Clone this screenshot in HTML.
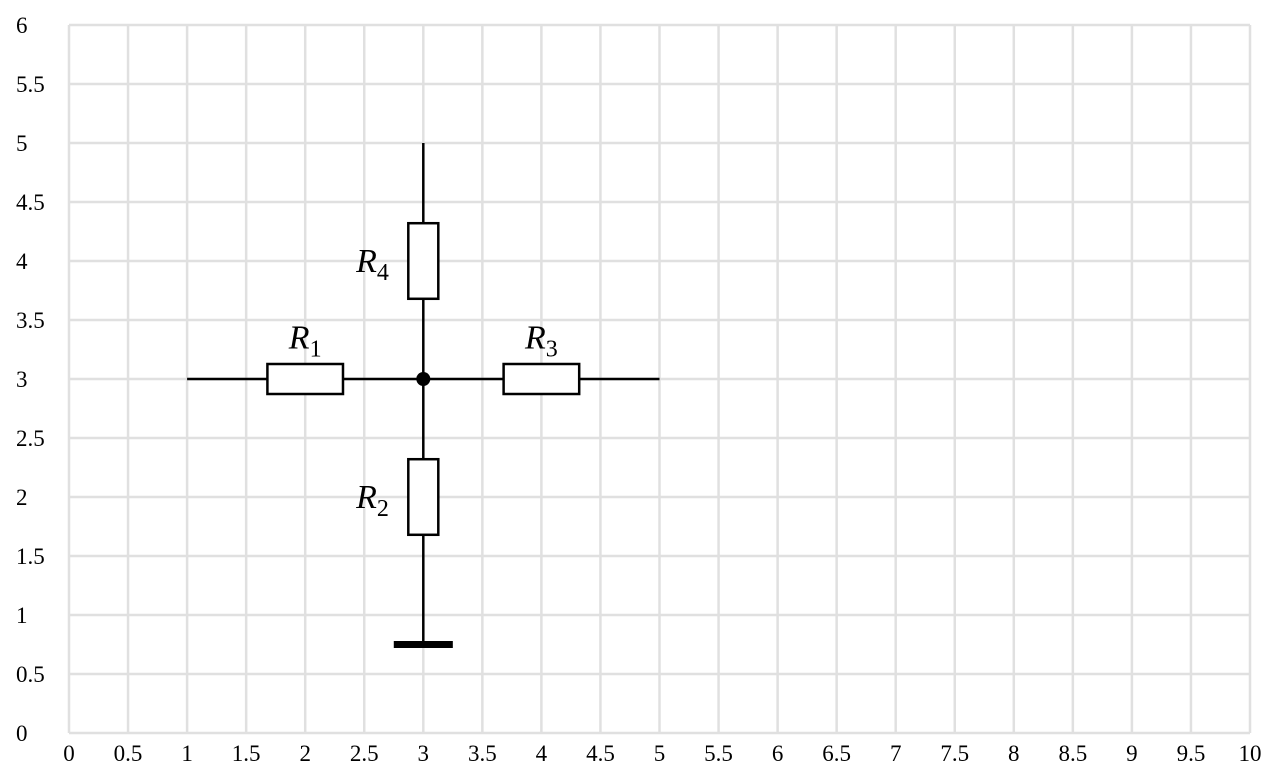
<!DOCTYPE html>
<html><head><meta charset="utf-8">
<style>
html,body{margin:0;padding:0;background:#fff;}
svg{display:block;}
text{font-family:"Liberation Serif",serif;fill:#000;}
</style></head>
<body>
<svg id="chart" width="1284" height="783" viewBox="0 0 1284 783" xmlns="http://www.w3.org/2000/svg"></svg>
<script>
const xTicks=[0,0.5,1,1.5,2,2.5,3,3.5,4,4.5,5,5.5,6,6.5,7,7.5,8,8.5,9,9.5,10];
const yTicks=[0,0.5,1,1.5,2,2.5,3,3.5,4,4.5,5,5.5,6];
const wireSegments=[[1,3,5,3],[3,5,3,0.75]];
const resistorNames=['R1','R2','R3','R4'];
const resistorCenters=[[2,3],[3,2],[4,3],[3,4]];
const resistorOrient=['h','v','h','v'];
const labelPositions=[[2,3.35],[2.57,2],[4,3.35],[2.57,4]];
const nodePoint=[3,3];
const groundPoint=[3,0.75];

const X0=69,X1=1250,Y0=733,Y1=25;
const sx=v=>X0+(X1-X0)*v/10;
const sy=v=>Y0-(Y0-Y1)*v/6;
const svg=document.getElementById('chart');
const NS='http://www.w3.org/2000/svg';
function mk(tag,attrs,parent){const e=document.createElementNS(NS,tag);for(const k in attrs)e.setAttribute(k,attrs[k]);(parent||svg).appendChild(e);return e;}

const grid=mk('g',{});


xTicks.forEach(t=>{
  const l=mk('line',{x1:sx(t),x2:sx(t),y1:Y1,y2:Y0,stroke:'#e0e0e0','stroke-width':2.5},grid);
  
  
  const tx=mk('text',{x:sx(t),y:761,'font-size':23,'text-anchor':'middle'});
  tx.textContent=t;
  
  
});
yTicks.forEach(t=>{
  const l=mk('line',{x1:X0,x2:X1,y1:sy(t),y2:sy(t),stroke:'#e0e0e0','stroke-width':2.5},grid);
  
  
  const tx=mk('text',{x:16,y:sy(t)+8,'font-size':23});
  tx.textContent=t;
  
  
});
wireSegments.forEach(s=>{
  const l=mk('line',{x1:sx(s[0]),y1:sy(s[1]),x2:sx(s[2]),y2:sy(s[3]),stroke:'#000','stroke-width':2.5});
  
  
});
const halfL=0.32*(X1-X0)/10, halfW=15;
resistorCenters.forEach((c,i)=>{
  const cx=sx(c[0]),cy=sy(c[1]);
  let r;
  if(resistorOrient[i]==='h') r=mk('rect',{x:cx-halfL,y:cy-halfW,width:2*halfL,height:2*halfW,fill:'#fff',stroke:'#000','stroke-width':2.5});
  else r=mk('rect',{x:cx-halfW,y:cy-halfL,width:2*halfW,height:2*halfL,fill:'#fff',stroke:'#000','stroke-width':2.5});
  
  
  const p=labelPositions[i];
  const t=mk('text',{x:sx(p[0]),y:sy(p[1])+11,'font-size':34,'font-style':'italic','text-anchor':'middle'});
  t.innerHTML=resistorNames[i][0]+'<tspan font-size="24" font-style="normal" dy="8">'+resistorNames[i].slice(1)+'</tspan>';
  
  
});
const dot=mk('circle',{cx:sx(nodePoint[0]),cy:sy(nodePoint[1]),r:7,fill:'#000'});


const g=mk('rect',{x:sx(groundPoint[0]-0.25),y:sy(groundPoint[1])-3.5,width:sx(0.5)-sx(0),height:7,fill:'#000'});


</script>
</body></html>
